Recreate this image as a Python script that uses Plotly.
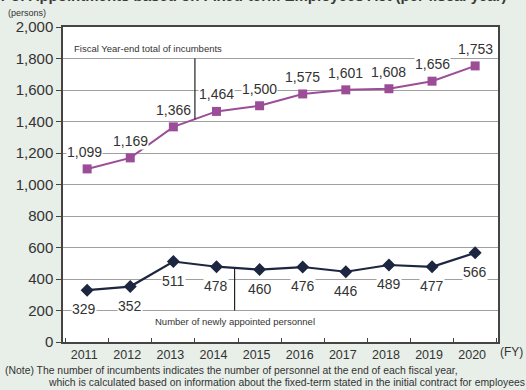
import plotly.graph_objects as go

# Fiscal years and the two series (persons)
years = [2011, 2012, 2013, 2014, 2015, 2016, 2017, 2018, 2019, 2020]
incumbents = [1099, 1169, 1366, 1464, 1500, 1575, 1601, 1608, 1656, 1753]
new_appointees = [329, 352, 511, 478, 460, 476, 446, 489, 477, 566]

y_ticks = [0, 200, 400, 600, 800, 1000, 1200, 1400, 1600, 1800, 2000]

PURPLE = "#9c4d98"
NAVY = "#1d2640"
TEXT = "#333333"
FONT = "Liberation Sans, Arial, sans-serif"

fig = go.Figure()

fig.add_trace(go.Scatter(
    x=years, y=incumbents, mode="lines+markers",
    line=dict(color=PURPLE, width=2),
    marker=dict(symbol="square", size=9, color=PURPLE),
    hoverinfo="skip", showlegend=False,
))
fig.add_trace(go.Scatter(
    x=years, y=new_appointees, mode="lines+markers",
    line=dict(color=NAVY, width=2.2),
    marker=dict(symbol="diamond", size=10, color=NAVY),
    hoverinfo="skip", showlegend=False,
))

annotations = []
# value labels above the incumbents line
for yr, v in zip(years, incumbents):
    annotations.append(dict(
        x=yr, y=v, xref="x", yref="y", text=f"{v:,}", showarrow=False,
        yshift=17, xshift=-3 if yr == 2011 else 0,
        font=dict(size=14, color=TEXT, family=FONT),
        bgcolor="white", borderpad=0,
    ))
# value labels below the new appointees line
for yr, v in zip(years, new_appointees):
    annotations.append(dict(
        x=yr, y=v, xref="x", yref="y", text=f"{v:,}", showarrow=False,
        yshift=-19, xshift=-3 if yr == 2011 else 0,
        font=dict(size=14, color=TEXT, family=FONT),
        bgcolor="white", borderpad=0,
    ))

# series callouts
annotations.append(dict(
    x=2010.66, y=1800, xref="x", yref="y", xanchor="left", yanchor="bottom",
    text="Fiscal Year-end total of incumbents", showarrow=False, yshift=2,
    font=dict(size=9.5, color=TEXT, family=FONT),
))
annotations.append(dict(
    x=2012.52, y=200, xref="x", yref="y", xanchor="left", yanchor="top",
    text="Number of newly appointed personnel", showarrow=False, yshift=-3,
    font=dict(size=9.5, color=TEXT, family=FONT),
))

# axis unit labels, heading and note
annotations.append(dict(
    x=-0.13, y=1.045, xref="paper", yref="paper", xanchor="left", yanchor="middle",
    text="(persons)", showarrow=False,
    font=dict(size=9, color=TEXT, family=FONT),
))
annotations.append(dict(
    x=1.0, y=0.0, xref="paper", yref="paper", xanchor="left", yanchor="top",
    text="(FY)", showarrow=False, yshift=-1, xshift=0,
    font=dict(size=12, color=TEXT, family=FONT),
))
annotations.append(dict(
    x=-0.265, y=1.1, xref="paper", yref="paper", xanchor="left", yanchor="middle",
    text="<b>Number of Appointments based on Fixed-term Employees Act (per fiscal year)</b>",
    showarrow=False,
    font=dict(size=15, color="#3a3a3a", family=FONT),
))
annotations.append(dict(
    x=-0.137, y=-0.066, xref="paper", yref="paper", xanchor="left", yanchor="top",
    text="(Note) The number of incumbents indicates the number of personnel at the end of each fiscal year,",
    showarrow=False,
    font=dict(size=10.4, color=TEXT, family=FONT),
))
annotations.append(dict(
    x=-0.04, y=-0.104, xref="paper", yref="paper", xanchor="left", yanchor="top",
    text="which is calculated based on information about the fixed-term stated in the initial contract for employees",
    showarrow=False,
    font=dict(size=10.4, color=TEXT, family=FONT),
))

shapes = [
    dict(type="line", xref="x", yref="y", x0=2013.5, x1=2013.5, y0=1800,
         y1=(incumbents[2] + incumbents[3]) / 2, line=dict(color="#222", width=1.2)),
    dict(type="line", xref="x", yref="y", x0=2014.42, x1=2014.42, y0=200,
         y1=470, line=dict(color="#222", width=1.2)),
]

fig.update_layout(
    width=526, height=390,
    margin=dict(l=63, r=28, t=27, b=48),
    paper_bgcolor="#e8eee8",
    plot_bgcolor="white",
    font=dict(family=FONT, color=TEXT),
    annotations=annotations,
    shapes=shapes,
    xaxis=dict(
        range=[2010.44, 2020.53],
        tickvals=years, ticktext=[str(y) for y in years],
        ticks="", showgrid=False, zeroline=False,
        showline=True, linecolor="#444", linewidth=1.5, mirror=True,
        tickfont=dict(size=12.5, color=TEXT, family=FONT),
        ticklabelshift=-3,
        minor=dict(tick0=2011.5, dtick=1, ticks="inside", ticklen=4,
                   tickcolor="#444", showgrid=False),
    ),
    yaxis=dict(
        range=[0, 2000], tickvals=y_ticks, tickformat=",d",
        ticks="outside", ticklen=5, tickcolor="#444",
        showgrid=True, gridcolor="#a0a0a0", gridwidth=1, zeroline=False,
        showline=True, linecolor="#444", linewidth=1.5, mirror=True,
        tickfont=dict(size=15, color=TEXT, family=FONT),
    ),
)

fig.write_html("out.html")
